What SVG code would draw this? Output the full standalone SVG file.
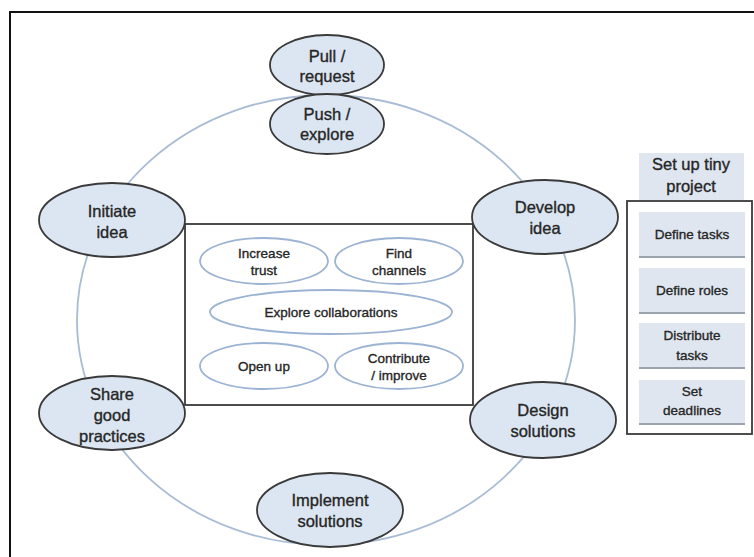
<svg xmlns="http://www.w3.org/2000/svg" width="754" height="557" viewBox="0 0 754 557">
<style>
text{font-family:"Liberation Sans",Arial,sans-serif;fill:#262626;stroke:#262626;stroke-width:0.35;text-anchor:middle}
.n{fill:#dce6f2;stroke:#3a3a3a;stroke-width:1.8}
.nt{font-size:16.5px}
.i{fill:#ffffff;stroke:#9db3d3;stroke-width:1.8}
.it{font-size:13.5px}
.b{fill:#dfe6f0}
.sh{stroke:#9aa3ae;stroke-width:2}
.bt{font-size:13.5px}
.frame{fill:none;stroke:#3a3a3a;stroke-width:1.8}
</style>
<rect width="754" height="557" fill="#ffffff"/>
<path d="M10,557 V12 H754" fill="none" stroke="#111" stroke-width="2"/>
<g id="connectors">
<ellipse cx="326" cy="320" rx="249" ry="225" fill="none" stroke="#a9bcd4" stroke-width="1.8"/>
</g>
<g id="center-box">
<rect class="frame" x="185" y="224" width="288" height="181"/>
</g>
<g id="increase-trust"><ellipse class="i" cx="264" cy="261" rx="64" ry="23"/><text class="it" x="264" y="258">Increase</text><text class="it" x="264" y="275">trust</text></g>
<g id="find-channels"><ellipse class="i" cx="399" cy="261" rx="64" ry="23"/><text class="it" x="399" y="258">Find</text><text class="it" x="399" y="275">channels</text></g>
<g id="explore-collaborations"><ellipse class="i" cx="331" cy="312" rx="121" ry="22"/><text class="it" x="331" y="317">Explore collaborations</text></g>
<g id="open-up"><ellipse class="i" cx="264" cy="366" rx="64" ry="23"/><text class="it" x="264" y="371">Open up</text></g>
<g id="contribute-improve"><ellipse class="i" cx="399" cy="366" rx="64" ry="23"/><text class="it" x="399" y="363">Contribute</text><text class="it" x="399" y="380">/ improve</text></g>
<g id="pull-request"><ellipse class="n" cx="327" cy="65" rx="57" ry="30"/><text class="nt" x="327" y="62">Pull /</text><text class="nt" x="327" y="82">request</text></g>
<g id="push-explore"><ellipse class="n" cx="327" cy="124" rx="57" ry="30"/><text class="nt" x="327" y="120">Push /</text><text class="nt" x="327" y="140">explore</text></g>
<g id="initiate-idea"><ellipse class="n" cx="112" cy="220" rx="73" ry="37"/><text class="nt" x="112" y="217">Initiate</text><text class="nt" x="112" y="238">idea</text></g>
<g id="develop-idea"><ellipse class="n" cx="545" cy="217" rx="73" ry="37"/><text class="nt" x="545" y="213">Develop</text><text class="nt" x="545" y="234">idea</text></g>
<g id="share-good-practices"><ellipse class="n" cx="112" cy="413" rx="73" ry="37"/><text class="nt" x="112" y="400">Share</text><text class="nt" x="112" y="421">good</text><text class="nt" x="112" y="442">practices</text></g>
<g id="design-solutions"><ellipse class="n" cx="543" cy="420" rx="73" ry="38"/><text class="nt" x="543" y="416">Design</text><text class="nt" x="543" y="437">solutions</text></g>
<g id="implement-solutions"><ellipse class="n" cx="330" cy="510" rx="73" ry="37"/><text class="nt" x="330" y="506">Implement</text><text class="nt" x="330" y="527">solutions</text></g>
<g id="set-up-tiny-project">
<rect class="b" x="639" y="153" width="105" height="47"/>
<text style="font-size:16.5px" x="691" y="170">Set up tiny</text>
<text style="font-size:16.5px" x="691" y="192">project</text>
<rect class="frame" x="627" y="201" width="125" height="233"/>
</g>
<g id="define-tasks"><rect class="b" x="639" y="212" width="106" height="44"/><line class="sh" x1="639" y1="257" x2="745" y2="257"/><text class="bt" x="692" y="239">Define tasks</text></g>
<g id="define-roles"><rect class="b" x="639" y="268" width="106" height="44"/><line class="sh" x1="639" y1="313" x2="745" y2="313"/><text class="bt" x="692" y="295">Define roles</text></g>
<g id="distribute-tasks"><rect class="b" x="639" y="323" width="106" height="44"/><line class="sh" x1="639" y1="368" x2="745" y2="368"/><text class="bt" x="692" y="340">Distribute</text><text class="bt" x="692" y="360">tasks</text></g>
<g id="set-deadlines"><rect class="b" x="639" y="380" width="106" height="43"/><line class="sh" x1="639" y1="424" x2="745" y2="424"/><text class="bt" x="692" y="396">Set</text><text class="bt" x="692" y="415">deadlines</text></g>
</svg>
